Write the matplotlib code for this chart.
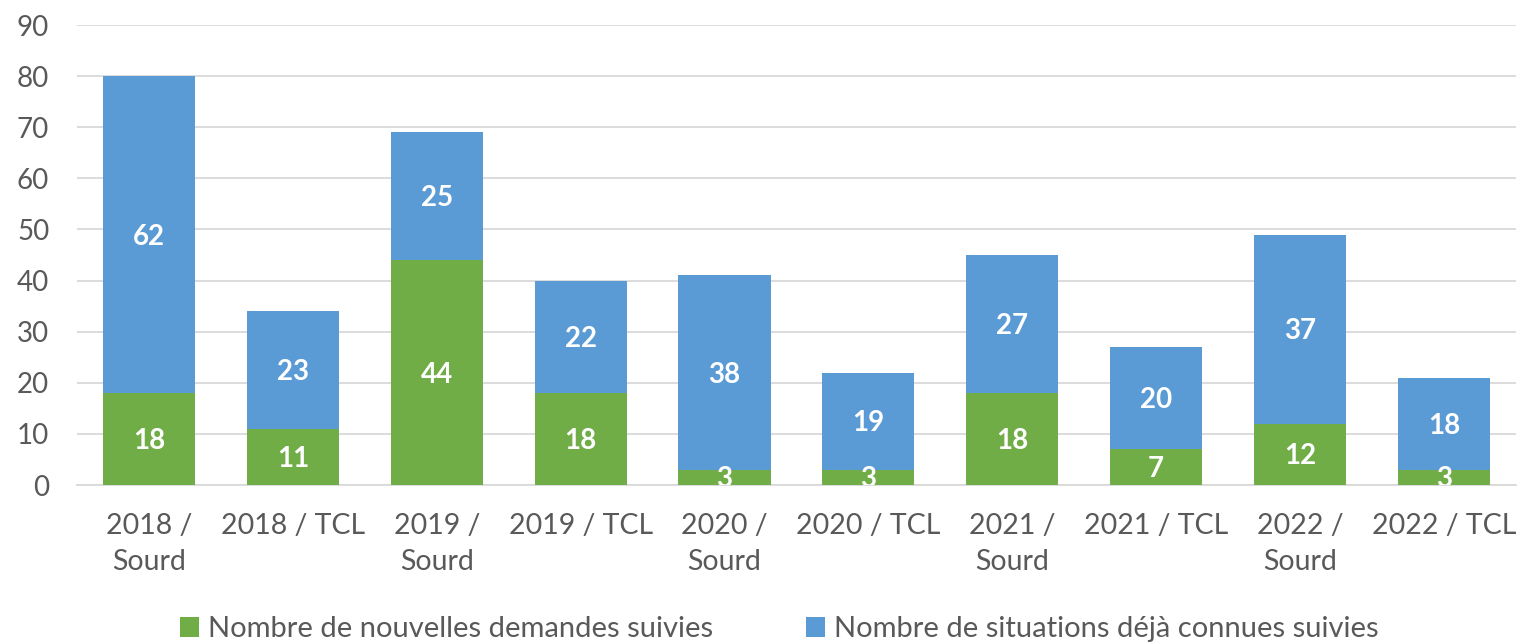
import matplotlib
matplotlib.use("Agg")
import matplotlib.pyplot as plt
import numpy as np

# data
categories = ["2018 /\nSourd", "2018 / TCL", "2019 /\nSourd", "2019 / TCL",
              "2020 /\nSourd", "2020 / TCL", "2021 /\nSourd", "2021 / TCL",
              "2022 /\nSourd", "2022 / TCL"]
nouvelles = [18, 11, 44, 18, 3, 3, 18, 7, 12, 3]
connues = [62, 23, 25, 22, 38, 19, 27, 20, 37, 18]
series_names = ["Nombre de nouvelles demandes suivies",
                "Nombre de situations déjà connues suivies"]
yticks = list(range(0, 91, 10))

green = "#70AD47"
blue = "#5B9BD5"
grey_text = "#595959"
grid_col = "#D9D9D9"

plt.rcParams["font.family"] = ["Lato", "DejaVu Sans"]

fig = plt.figure(figsize=(15.19, 6.42), dpi=100)
ax = fig.add_axes([0.0507, 0.2445, 0.9473, 0.7165])

x = np.arange(len(categories))
w = 0.64
b1 = ax.bar(x, nouvelles, w, color=green, label=series_names[0], zorder=3)
b2 = ax.bar(x, connues, w, bottom=nouvelles, color=blue, label=series_names[1], zorder=3)

# data labels in the middle of each segment
for i in range(len(x)):
    ax.text(x[i], nouvelles[i] / 2 - 0.4, str(nouvelles[i]), ha="center", va="center",
            color="white", fontsize=20, fontweight="bold", zorder=4, clip_on=True)
    ax.text(x[i], nouvelles[i] + connues[i] / 2 - 0.4, str(connues[i]), ha="center", va="center",
            color="white", fontsize=20, fontweight="bold", zorder=4, clip_on=True)

ax.set_xlim(-0.5, len(x) - 0.5)
ax.set_ylim(0, 90)
ax.set_yticks(yticks)
ax.set_xticks(x)
ax.set_xticklabels(categories, fontsize=20.5, color=grey_text, linespacing=1.5)
ax.tick_params(axis="y", labelsize=20, labelcolor=grey_text, length=0, pad=20)
ax.tick_params(axis="x", length=0, pad=20)
ax.yaxis.grid(True, color=grid_col, linewidth=1.3, zorder=0)
ax.set_axisbelow(True)
for s in ["top", "right", "left"]:
    ax.spines[s].set_visible(False)
ax.spines["bottom"].set_color(grid_col)
ax.spines["bottom"].set_linewidth(1.3)

fig.legend(handles=[b1, b2], loc="center", bbox_to_anchor=(0.513, 0.02), ncol=2,
           frameon=False, fontsize=21, handlelength=0.65, handleheight=0.65,
           handletextpad=0.3, columnspacing=3.2, labelcolor=grey_text)

fig.savefig("out.png", dpi=100)
